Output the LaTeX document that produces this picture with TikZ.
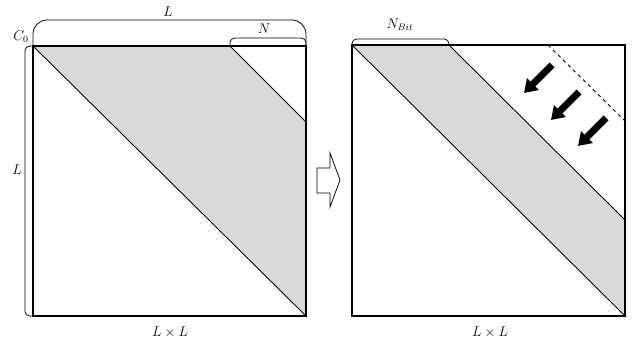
\documentclass[tikz,border=0pt]{standalone}
\usepackage{amsmath}
\usepackage{tikz}
\usetikzlibrary{arrows.meta}
\definecolor{bandgray}{HTML}{D9D9D9}

\begin{document}
\begin{tikzpicture}[x=0.3mm,y=-0.3mm,font=\fontsize{11.5}{13}\selectfont]
  \useasboundingbox (0,0) rectangle (633,343);
  \tikzset{frame/.style={line width=1.2pt}, diag/.style={line width=0.75pt},
    brace/.style={line width=0.65pt}, push/.style={line width=2.1mm,-{Triangle[length=3.8mm,width=4.8mm]}}}
  % left matrix
  \coordinate (lnw) at (33,46);
  \coordinate (lne) at (306,46);
  \coordinate (lse) at (306,316);
  \coordinate (lsw) at (33,316);
  \coordinate (ltop) at (230,46);
  \coordinate (lmid) at (306,122);
  \fill[bandgray] (lnw) -- (ltop) -- (lmid) -- (lse) -- cycle;
  \draw[diag] (lnw) -- (lse);
  \draw[diag] (ltop) -- (lmid);
  \draw[frame] (lnw) rectangle (lse);
  \draw[brace,rounded corners=12] (lnw) -- (33,20) -- (306,20) -- (lne);
  \draw[brace,rounded corners=4] (ltop) -- (230,38) -- (306,38) -- (lne);
  \draw[brace,rounded corners=4] (lnw) -- (25,46) -- (25,316) -- (lsw);
  \node (lL) at (168,12) {$L$};
  \node (lN) at (264,29) {$N$};
  \node (lC) at (21,37) {$C_0$};
  \node (lLv) at (17,170) {$L$};
  \node (lLL) at (170,332) {$L\times L$};
  % hollow arrow
  \draw[line width=0.65pt,fill=white] (317,168) -- (330,168) -- (330,153) -- (340,180)
    -- (330,207) -- (330,193) -- (317,193) -- cycle;
  % right matrix
  \coordinate (rnw) at (352,45);
  \coordinate (rne) at (625,45);
  \coordinate (rse) at (625,316);
  \coordinate (rtop) at (449,45);
  \coordinate (rmid) at (625,220);
  \fill[bandgray] (rnw) -- (rtop) -- (rmid) -- (rse) -- cycle;
  \draw[diag] (rnw) -- (rse);
  \draw[diag] (rtop) -- (rmid);
  \draw[diag,dashed] (548,45) -- (625,121);
  \draw[frame] (rnw) rectangle (rse);
  \draw[brace,rounded corners=4] (rnw) -- (352,39) -- (449,39) -- (rtop);
  \node (rN) at (400,25) {$N_{Bit}$};
  \node (rLL) at (490,332) {$L\times L$};
  \draw[push] (552,65) -- (524,93);
  \draw[push] (579,92) -- (551,120);
  \draw[push] (606,118) -- (578,146);
\end{tikzpicture}
\end{document}
